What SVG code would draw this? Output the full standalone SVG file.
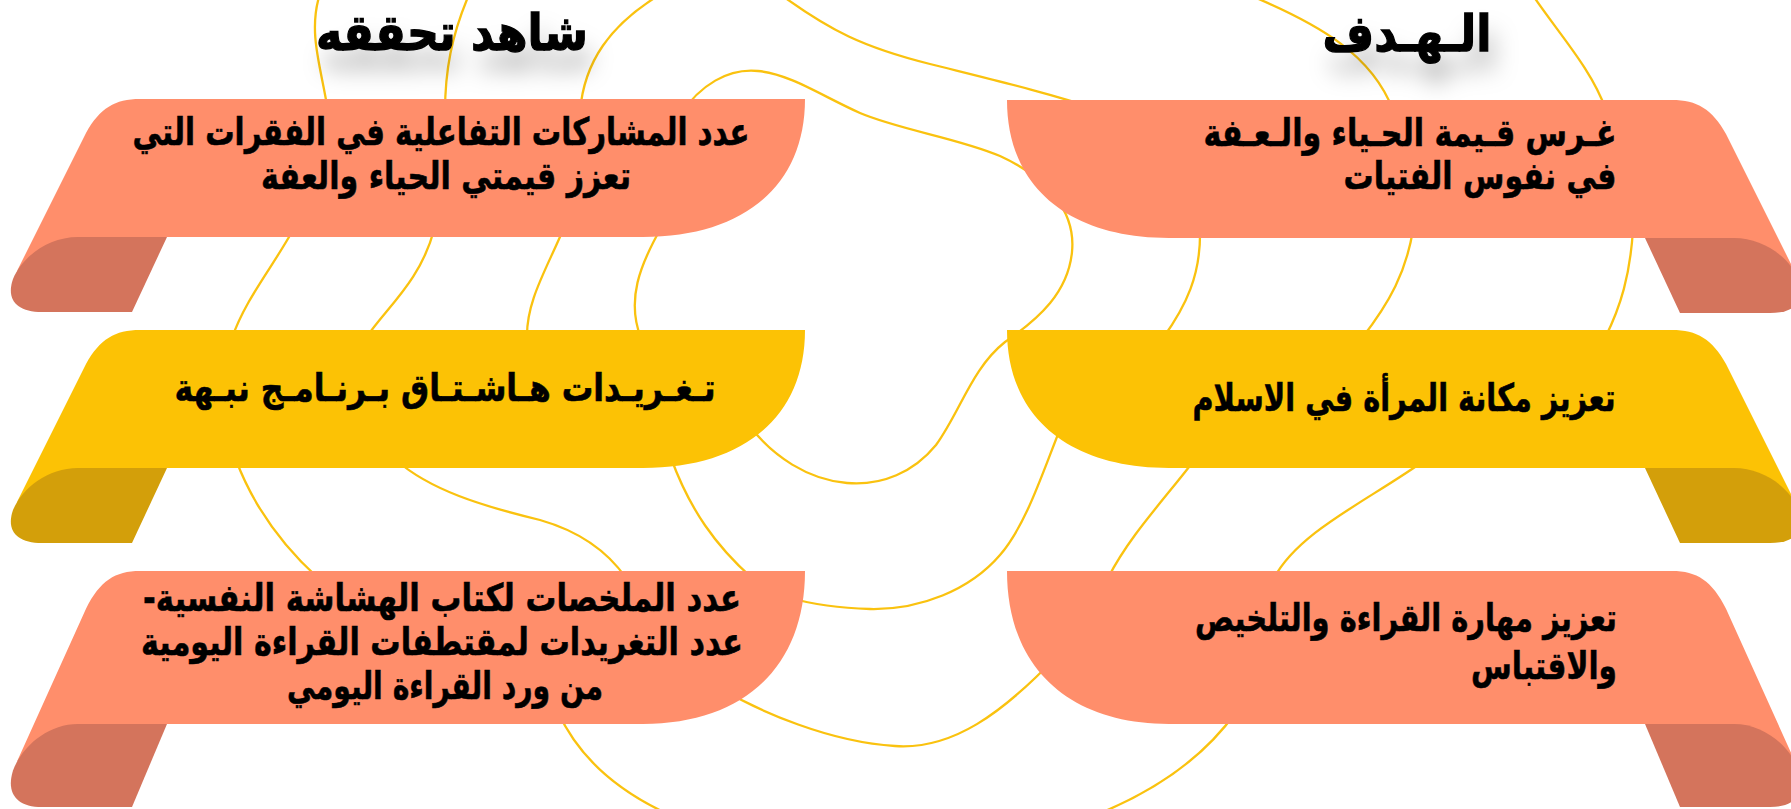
<svg xmlns="http://www.w3.org/2000/svg" xmlns:xlink="http://www.w3.org/1999/xlink" width="1791" height="809" viewBox="0 0 1791 809">
<style>
.ln{fill:none;stroke:#FAC20F;stroke-width:2.3;stroke-linecap:round}
.salmon{fill:#FF8E6B}
.salmonFold{fill:#D4745C}
.yellow{fill:#FCC205}
.yellowFold{fill:#D39F0A}
.t{font-family:"DejaVu Sans","Noto Sans",sans-serif;font-weight:bold;fill:#000;stroke:#000;direction:rtl;text-anchor:middle}
.body{font-size:38px;stroke-width:0.6}
.title{font-size:50px;stroke-width:1.3}
</style>
<defs>
<path id="bodyShape" d="M140,0 H805 C805,88 742,138 643,138 H100 L17,172 L86,34 C100,9 115,0 140,0 Z"/>
<path id="foldShape" d="M167,138 L78,138 C48,138 22,158 13,180 C6,200 16,213 42,213 L132,213 Z"/>
<filter id="shadow" x="-30%" y="-60%" width="160%" height="260%">
<feDropShadow dx="6" dy="20" stdDeviation="11" flood-color="#000" flood-opacity="0.25"/>
</filter>
</defs>
<rect width="1791" height="809" fill="#FFFFFF"/>
<g id="background-lines">
<path class="ln" d="M319,-3 C308,35 322,70 328,112"/>
<path class="ln" d="M468,-3 C452,35 445,70 445,112"/>
<path class="ln" d="M656,-3 C612,25 584,60 580,112"/>
<path class="ln" d="M784,-3 C830,30 862,47 930,64 S1045,92 1100,110"/>
<path class="ln" d="M680,115 C700,85 728,68 758,71 C790,74 822,96 860,113 C900,130 958,138 1000,156 C1048,178 1076,212 1072,252 C1068,292 1040,318 1005,342 C972,368 960,412 936,445 C914,472 882,486 847,483 C810,480 772,458 745,420"/>
<path class="ln" d="M661,228 C640,265 626,300 641,338"/>
<path class="ln" d="M293,230 C272,268 245,300 232,338"/>
<path class="ln" d="M434,230 C420,282 386,308 366,338"/>
<path class="ln" d="M563,230 C546,270 526,302 527,338"/>
<path class="ln" d="M236,460 C255,510 285,548 318,578"/>
<path class="ln" d="M396,460 C430,490 482,506 540,520 C582,532 608,552 626,578"/>
<path class="ln" d="M671,458 C690,510 716,546 752,578"/>
<path class="ln" d="M1070,405 C1046,460 1030,520 1000,555 C970,590 920,610 870,609 C840,608 815,605 790,598"/>
<path class="ln" d="M1200,230 C1201,275 1186,306 1163,338"/>
<path class="ln" d="M1413,230 C1406,272 1390,302 1362,338"/>
<path class="ln" d="M1633,230 C1630,275 1621,306 1605,338"/>
<path class="ln" d="M1254,-3 C1320,25 1372,55 1393,110"/>
<path class="ln" d="M1534,-3 C1560,35 1592,70 1606,110"/>
<path class="ln" d="M1196,458 C1164,500 1130,535 1108,578"/>
<path class="ln" d="M1428,458 C1370,500 1300,530 1274,578"/>
<path class="ln" d="M720,688 C760,712 830,742 895,746 C952,750 1002,714 1058,655"/>
<path class="ln" d="M558,712 C580,760 620,792 668,814"/>
<path class="ln" d="M1236,712 C1202,760 1152,792 1098,814"/>
</g>
<g id="title-evidence">
<text class="t title" x="452" y="50" filter="url(#shadow)" textLength="272" lengthAdjust="spacingAndGlyphs">شاهد تحققه</text>
</g>
<g id="title-goal">
<text class="t title" x="1407" y="51" filter="url(#shadow)" textLength="169" lengthAdjust="spacingAndGlyphs">الـهـدف</text>
</g>
<g id="evidence-1">
<use href="#bodyShape" class="salmon" transform="translate(0,99)"/>
<use href="#foldShape" class="salmonFold" transform="translate(0,99)"/>
<text class="t body" x="441" y="145" textLength="617" lengthAdjust="spacingAndGlyphs">عدد المشاركات التفاعلية في الفقرات التي</text>
<text class="t body" x="446" y="189" textLength="370" lengthAdjust="spacingAndGlyphs">تعزز قيمتي الحياء والعفة</text>
</g>
<g id="evidence-2">
<use href="#bodyShape" class="yellow" transform="translate(0,330)"/>
<use href="#foldShape" class="yellowFold" transform="translate(0,330)"/>
<text class="t body" x="445" y="401" textLength="541" lengthAdjust="spacingAndGlyphs">تـغـريـدات هـاشـتـاق بـرنـامـج نبـهة</text>
</g>
<g id="evidence-3">
<use href="#bodyShape" class="salmon" transform="translate(0,571) scale(1,1.108)"/>
<use href="#foldShape" class="salmonFold" transform="translate(0,571) scale(1,1.108)"/>
<text class="t body" x="442" y="611" textLength="598" lengthAdjust="spacingAndGlyphs">عدد الملخصات لكتاب الهشاشة النفسية-</text>
<text class="t body" x="442" y="655" textLength="602" lengthAdjust="spacingAndGlyphs">عدد التغريدات لمقتطفات القراءة اليومية</text>
<text class="t body" x="445" y="699" textLength="316" lengthAdjust="spacingAndGlyphs">من ورد القراءة اليومي</text>
</g>
<g id="goal-1">
<use href="#bodyShape" class="salmon" transform="translate(1812,100) scale(-1,1)"/>
<use href="#foldShape" class="salmonFold" transform="translate(1812,100) scale(-1,1)"/>
<text class="t body" x="1410" y="146" textLength="413" lengthAdjust="spacingAndGlyphs">غـرس قـيمة الحـياء والـعـفة</text>
<text class="t body" x="1480" y="189" textLength="273" lengthAdjust="spacingAndGlyphs">في نفوس الفتيات</text>
</g>
<g id="goal-2">
<use href="#bodyShape" class="yellow" transform="translate(1812,330) scale(-1,1)"/>
<use href="#foldShape" class="yellowFold" transform="translate(1812,330) scale(-1,1)"/>
<text class="t body" x="1404" y="411" textLength="423" lengthAdjust="spacingAndGlyphs">تعزيز مكانة المرأة في الاسلام</text>
</g>
<g id="goal-3">
<use href="#bodyShape" class="salmon" transform="translate(1812,571) scale(-1,1.108)"/>
<use href="#foldShape" class="salmonFold" transform="translate(1812,571) scale(-1,1.108)"/>
<text class="t body" x="1406" y="631" textLength="422" lengthAdjust="spacingAndGlyphs">تعزيز مهارة القراءة والتلخيص</text>
<text class="t body" x="1544" y="679" textLength="146" lengthAdjust="spacingAndGlyphs">والاقتباس</text>
</g>
</svg>
